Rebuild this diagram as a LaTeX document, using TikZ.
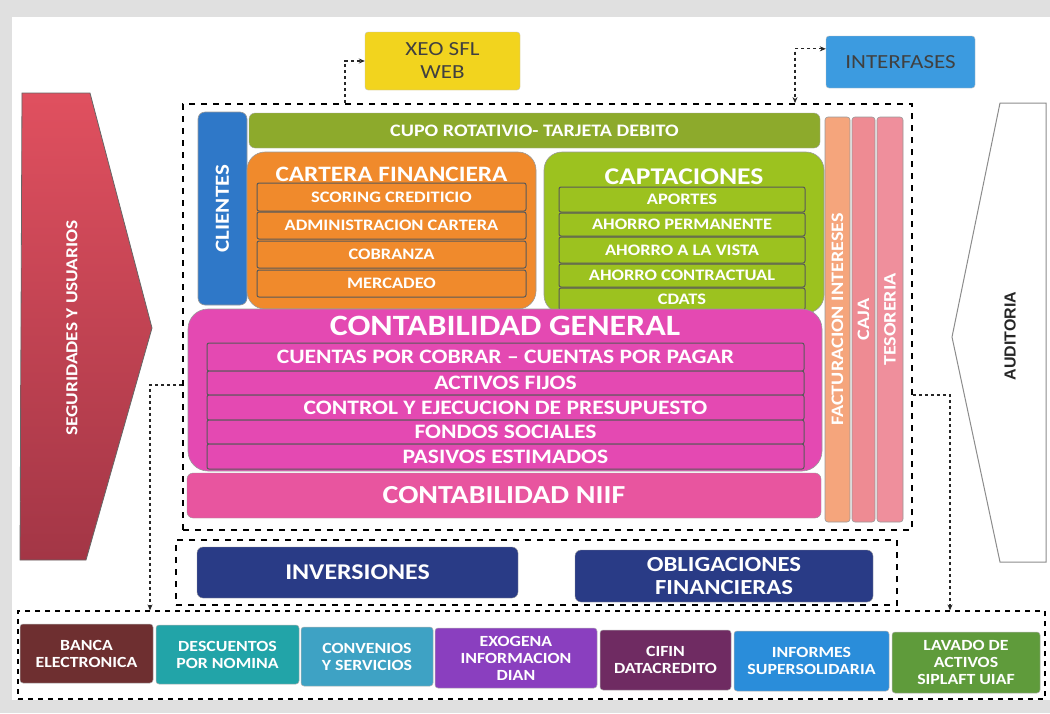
\documentclass[tikz,border=0pt]{standalone}
\usepackage{fontspec}
\setmainfont{Carlito}[FakeStretch=1.15]
\newfontfamily\arialf{Liberation Sans}
\usetikzlibrary{arrows.meta,calc}
\definecolor{cyellow}{HTML}{F2D41E}
\definecolor{cifblue}{HTML}{3C9BE0}
\definecolor{ccli}{HTML}{2F78C8}
\definecolor{ccupo}{HTML}{8DAA2C}
\definecolor{corange}{HTML}{F08A2C}
\definecolor{clime}{HTML}{9CC21F}
\definecolor{cmag}{HTML}{E449B2}
\definecolor{cniif}{HTML}{E8559F}
\definecolor{cfact}{HTML}{F5A57C}
\definecolor{ccaja}{HTML}{EE8B93}
\definecolor{ctes}{HTML}{EF8F9C}
\definecolor{csegt}{HTML}{E0505F}
\definecolor{csegb}{HTML}{A33646}
\definecolor{cnavy}{HTML}{293B86}
\definecolor{cbanca}{HTML}{6E2F30}
\definecolor{cdesc}{HTML}{22A4A8}
\definecolor{cconv}{HTML}{3EA2C4}
\definecolor{cexo}{HTML}{8A3FBF}
\definecolor{ccifin}{HTML}{6F2B62}
\definecolor{cinf}{HTML}{2A8DDA}
\definecolor{clav}{HTML}{5F9B3B}
\newcommand{\fs}[1]{\fontsize{#1}{#1}\selectfont}
\tikzset{
  blk/.style={rounded corners=4pt, inner sep=0pt, text=white, font=\bfseries, align=center},
  topbox/.style={blk, draw=black!25, text=black!75, font=\fs{20}, align=center, rounded corners=3pt},
  bigbox/.style={rounded corners=18pt, inner sep=0pt, draw=black!40, line width=0.6pt},
  subbar/.style={draw=black!65, line width=1pt, rounded corners=2pt, inner sep=0pt, text=white, font=\bfseries, align=center},
  vbar/.style={blk, rotate=90, draw=black!40, line width=0.6pt, rounded corners=3pt},
  ttl/.style={text=white, font=\bfseries, inner sep=0pt},
  dashbox/.style={draw=black, line width=1.8pt, dash pattern=on 6pt off 6pt, inner sep=0pt},
  conn/.style={draw=black!85, line width=1.2pt, dash pattern=on 3pt off 3pt, -{Stealth[length=6pt,width=5pt]}},
  botbox/.style={blk, font=\bfseries\fontsize{15.5}{17}\selectfont, rounded corners=3pt, draw=black!30, line width=0.5pt}
}
\begin{document}
\begin{tikzpicture}[x=1pt,y=-1pt]
\useasboundingbox (0,0) rectangle (1050,713);
\fill[black!12] (0,0) rectangle (1050,713);
\fill[white] (12,17) rectangle (1050,700);

% top boxes
\node[topbox, fill=cyellow, minimum width=155pt, minimum height=58pt] (xeo) at (442.5,61) {XEO SFL\\[3pt]WEB};
\node[topbox, fill=cifblue, minimum width=149pt, minimum height=52pt] (interf) at (900.5,62) {INTERFASES};

% side arrows
\shade[top color=csegt, bottom color=csegb, draw=black!60, line width=0.8pt] (22,93) -- (90,93) -- (152,328) -- (86,560) -- (20,560) -- cycle;
\node[ttl, rotate=90, font=\bfseries\fs{16.8}] (segtext) at (72,328) {SEGURIDADES Y USUARIOS};
\draw[black!45, fill=white, line width=1pt] (1000,103) -- (1046,103) -- (1046,562) -- (1000,562) -- (952,337) -- cycle;
\node[rotate=90, font=\arialf\bfseries\fs{16}, text=black!85, inner sep=0pt] (audtext) at (1010,336) {AUDITORIA};

% dashed frames
\node[dashbox, minimum width=729pt, minimum height=426pt] (maindash) at (547.5,317) {};
\node[dashbox, minimum width=721pt, minimum height=65pt] (invdash) at (536.5,572.5) {};
\node[dashbox, line width=1.2pt, dash pattern=on 5pt off 5pt, minimum width=1027pt, minimum height=88pt] (botdash) at (531.5,655) {};

% inside main
\node[vbar, fill=ccli, minimum width=193pt, minimum height=49pt, rounded corners=7pt, font=\bfseries\fs{20}] (clientes) at (222.5,208.5) {CLIENTES};
\node[blk, fill=ccupo, draw=black!35, minimum width=571pt, minimum height=35pt, rounded corners=6pt, font=\bfseries\fs{17.5}] (cupo) at (534.5,130.5) {CUPO ROTATIVIO- TARJETA DEBITO};

\node[bigbox, fill=corange, minimum width=289pt, minimum height=157pt] (cartera) at (391.5,230.5) {};
\node[ttl, font=\bfseries\fs{22}] (cartitle) at (391.5,174) {CARTERA FINANCIERA};
\node[subbar, fill=corange, minimum width=269pt, minimum height=28pt, font=\bfseries\fs{16}] (scoring) at (391.5,197) {SCORING CREDITICIO};
\node[subbar, fill=corange, minimum width=269pt, minimum height=27pt, font=\bfseries\fs{16}] (admin) at (391.5,225.5) {ADMINISTRACION CARTERA};
\node[subbar, fill=corange, minimum width=269pt, minimum height=27pt, font=\bfseries\fs{16}] (cobranza) at (391.5,254.5) {COBRANZA};
\node[subbar, fill=corange, minimum width=269pt, minimum height=27pt, font=\bfseries\fs{16}] (mercadeo) at (391.5,283.5) {MERCADEO};

\node[bigbox, fill=clime, minimum width=280pt, minimum height=161pt] (capt) at (684,232.5) {};
\node[ttl, font=\bfseries\fs{24}] (capttitle) at (684,177) {CAPTACIONES};
\node[subbar, fill=clime, minimum width=246pt, minimum height=25pt, font=\bfseries\fs{16}] (aportes) at (682,199.5) {APORTES};
\node[subbar, fill=clime, minimum width=246pt, minimum height=23pt, font=\bfseries\fs{16}] (perm) at (682,224.5) {AHORRO PERMANENTE};
\node[subbar, fill=clime, minimum width=246pt, minimum height=26pt, font=\bfseries\fs{16}] (vista) at (682,250) {AHORRO A LA VISTA};
\node[subbar, fill=clime, minimum width=246pt, minimum height=23pt, font=\bfseries\fs{16}] (contr) at (682,275.5) {AHORRO CONTRACTUAL};
\node[subbar, fill=clime, minimum width=246pt, minimum height=22pt, font=\bfseries\fs{16}] (cdats) at (682,299) {CDATS};

\node[bigbox, fill=cmag, minimum width=634pt, minimum height=162pt, rounded corners=20pt] (cgen) at (505,390) {};
\node[ttl, font=\bfseries\fs{29.5}] (cgtitle) at (505,326) {CONTABILIDAD GENERAL};
\node[subbar, fill=cmag, minimum width=597pt, minimum height=28pt, font=\bfseries\fs{20.5}] (cxc) at (505.5,357) {CUENTAS POR COBRAR – CUENTAS POR PAGAR};
\node[subbar, fill=cmag, minimum width=597pt, minimum height=24pt, font=\bfseries\fs{20.5}] (activos) at (505.5,383) {ACTIVOS FIJOS};
\node[subbar, fill=cmag, minimum width=597pt, minimum height=25pt, font=\bfseries\fs{20.5}] (presup) at (505.5,407.5) {CONTROL Y EJECUCION DE PRESUPUESTO};
\node[subbar, fill=cmag, minimum width=597pt, minimum height=24pt, font=\bfseries\fs{20.5}] (fondos) at (505.5,432) {FONDOS SOCIALES};
\node[subbar, fill=cmag, minimum width=597pt, minimum height=25pt, font=\bfseries\fs{20.5}] (pasivos) at (505.5,456.5) {PASIVOS ESTIMADOS};

\node[blk, fill=cniif, draw=black!40, minimum width=634pt, minimum height=45pt, rounded corners=6pt, font=\bfseries\fs{26}] (niif) at (504,495.5) {CONTABILIDAD NIIF};

\node[vbar, fill=cfact, minimum width=405pt, minimum height=25pt, font=\bfseries\fs{17.5}] (fact) at (837.5,319.5) {FACTURACION INTERESES};
\node[vbar, fill=ccaja, minimum width=405pt, minimum height=23pt, font=\bfseries\fs{17.5}] (caja) at (863.5,319.5) {CAJA};
\node[vbar, fill=ctes, minimum width=405pt, minimum height=26pt, font=\bfseries\fs{17.5}] (tes) at (890,319.5) {TESORERIA};

% middle
\node[blk, fill=cnavy, draw=black!40, minimum width=321pt, minimum height=51pt, rounded corners=6pt, font=\bfseries\fs{22.5}] (inv) at (357.5,572.5) {INVERSIONES};
\node[blk, fill=cnavy, draw=black!40, minimum width=298pt, minimum height=52pt, rounded corners=6pt, font=\bfseries\fontsize{21.5}{23}\selectfont] (oblig) at (724,576) {OBLIGACIONES\\FINANCIERAS};

% bottom row
\node[botbox, fill=cbanca, minimum width=133pt, minimum height=59pt] (banca) at (86.5,653.5) {BANCA\\ELECTRONICA};
\node[botbox, fill=cdesc, minimum width=143pt, minimum height=59pt] (desc) at (227.5,654.5) {DESCUENTOS\\POR NOMINA};
\node[botbox, fill=cconv, minimum width=132pt, minimum height=59pt] (conv) at (367,656.5) {CONVENIOS\\Y SERVICIOS};
\node[botbox, fill=cexo, minimum width=162pt, minimum height=60pt] (exo) at (516,658) {EXOGENA\\INFORMACION\\DIAN};
\node[botbox, fill=ccifin, minimum width=131pt, minimum height=60pt] (cifin) at (665.5,660) {CIFIN\\DATACREDITO};
\node[botbox, fill=cinf, minimum width=155pt, minimum height=60pt] (inf) at (811.5,661) {INFORMES\\SUPERSOLIDARIA};
\node[botbox, fill=clav, minimum width=148pt, minimum height=61pt] (lav) at (966,662.5) {LAVADO DE\\ACTIVOS\\SIPLAFT UIAF};

% connectors
\coordinate (xeoc) at (345,0);
\coordinate (intc) at (795,0);
\coordinate (la) at (0,385);
\coordinate (lb) at (150,0);
\coordinate (ra) at (0,395);
\coordinate (rb) at (950,0);
\draw[conn] (xeoc |- maindash.north) |- (xeo.west);
\draw[conn, {Stealth[length=6pt,width=5pt]}-{Stealth[length=6pt,width=5pt]}] (interf.170) -| (intc |- maindash.north);
\draw[conn] (maindash.west |- la) -| (lb |- botdash.north);
\draw[conn] (maindash.east |- ra) -| (rb |- botdash.north);
\end{tikzpicture}
\end{document}
